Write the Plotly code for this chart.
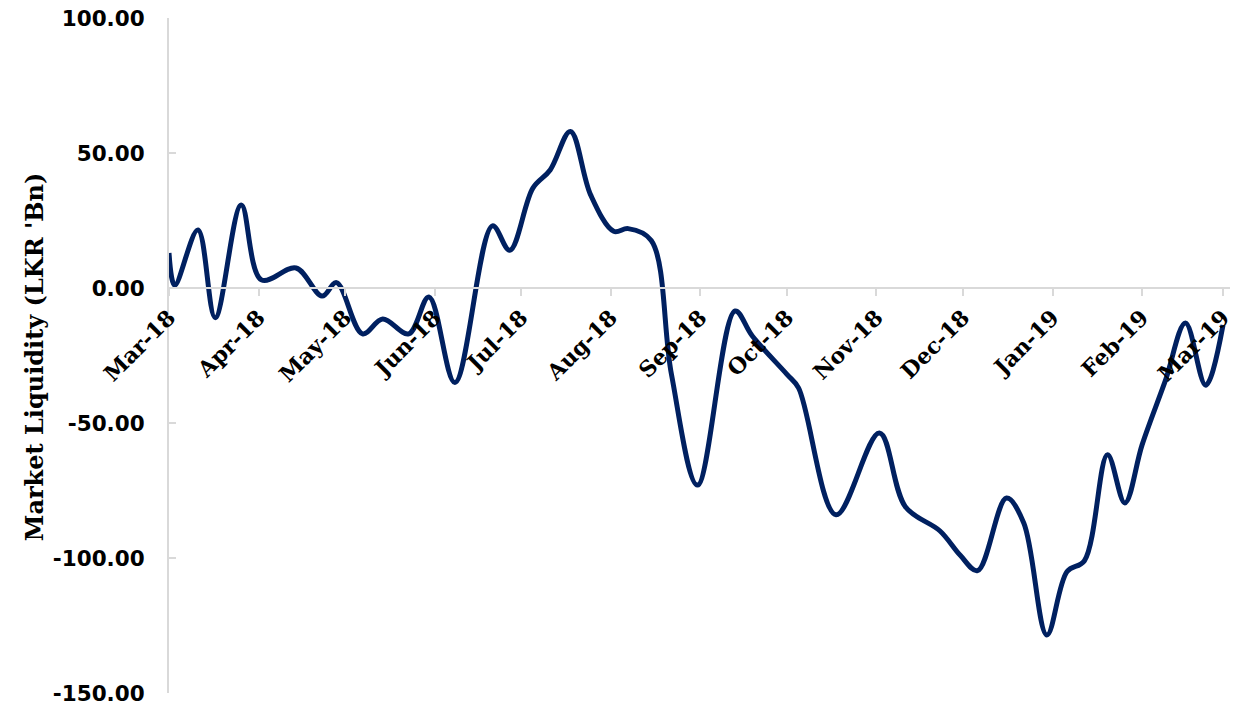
import plotly.graph_objects as go

dates = [
    "2018-03-01", "2018-03-03", "2018-03-11", "2018-03-17", "2018-03-26",
    "2018-04-02", "2018-04-14", "2018-04-23", "2018-04-28", "2018-05-07",
    "2018-05-14", "2018-05-23", "2018-05-30", "2018-06-08", "2018-06-21",
    "2018-06-27", "2018-07-05", "2018-07-11", "2018-07-18", "2018-07-25",
    "2018-08-02", "2018-08-07", "2018-08-15", "2018-08-22", "2018-08-31",
    "2018-09-13", "2018-09-19", "2018-10-01", "2018-10-05", "2018-10-18",
    "2018-11-02", "2018-11-11", "2018-11-23", "2018-11-30", "2018-12-06",
    "2018-12-16", "2018-12-22", "2018-12-30", "2019-01-06", "2019-01-12",
    "2019-01-20", "2019-01-26", "2019-02-01", "2019-02-09", "2019-02-16",
    "2019-02-23", "2019-03-01",
]
liquidity = [
    13.0, 1.0, 21.5, -11.0, 30.7,
    3.0, 7.4, -3.0, 2.0, -17.0,
    -11.5, -17.0, -3.3, -35.0, 23.0,
    14.0, 37.0, 43.7, 58.0, 34.5,
    21.0, 22.0, 17.6, -32.0, -73.0,
    -8.5, -17.8, -32.0, -37.0, -84.0,
    -53.7, -81.0, -90.0, -99.0, -104.7,
    -77.8, -87.0, -128.5, -105.0, -101.0,
    -61.8, -79.6, -58.0, -34.4, -13.0,
    -36.0, -13.7,
]

y_tickvals = [100, 50, 0, -50, -100, -150]
y_ticktext = ["100.00", "50.00", "0.00", "-50.00", "-100.00", "-150.00"]

fig = go.Figure()
fig.add_trace(go.Scatter(
    x=dates, y=liquidity, mode="lines",
    line=dict(color="#002060", width=5, shape="spline", smoothing=1.0),
    showlegend=False, hoverinfo="skip",
))

fig.update_layout(
    width=1234, height=706,
    margin=dict(l=169, r=0, t=18, b=13),
    paper_bgcolor="white", plot_bgcolor="white",
    xaxis=dict(
        type="date",
        range=["2018-03-01", "2019-03-03 10:00"],
        anchor="free", position=0.6,
        showgrid=False, zeroline=False,
        showline=True, linecolor="#d9d9d9", linewidth=2,
        ticks="outside", ticklen=7, tickwidth=2, tickcolor="#d9d9d9",
        dtick="M1", tick0="2018-03-01", tickformat="%b-%y",
        tickangle=-45, ticklabeloverflow="allow",
        tickfont=dict(family="DejaVu Serif", size=22, color="black", weight="bold"),
    ),
    yaxis=dict(
        range=[-150, 100],
        showgrid=False, zeroline=False,
        showline=True, linecolor="#d9d9d9", linewidth=2,
        ticks="inside", ticklen=7, tickwidth=2, tickcolor="#d9d9d9",
        tickvals=y_tickvals, ticktext=y_ticktext,
        ticklabelstandoff=18,
        tickfont=dict(family="DejaVu Sans", size=21.5, color="black", weight="bold"),
    ),
    annotations=[dict(
        text="Market Liquidity (LKR 'Bn)",
        xref="paper", yref="paper", x=-0.126, y=0.498,
        xanchor="center", yanchor="middle", textangle=-90, showarrow=False,
        font=dict(family="DejaVu Serif", size=24, color="black", weight="bold"),
    )],
)

fig.write_html("out.html")
